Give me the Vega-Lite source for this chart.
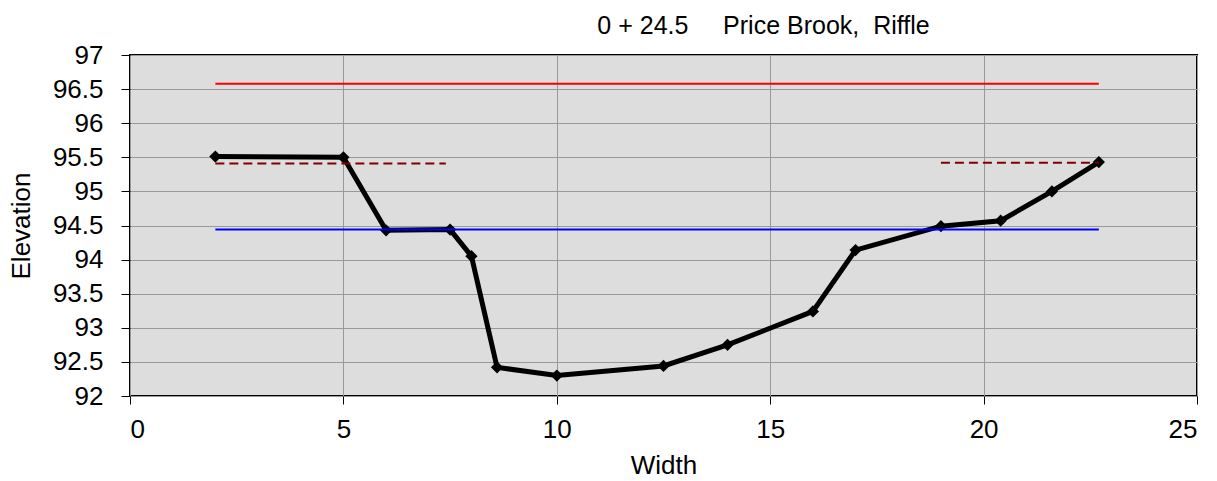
{
  "$schema": "https://vega.github.io/schema/vega-lite/v6.json",
  "autosize": "none",
  "width": 1067,
  "height": 341,
  "padding": {"left": 130, "top": 55, "right": 20, "bottom": 85},
  "background": "white",
  "title": {
    "text": "0 + 24.5\u00a0\u00a0\u00a0\u00a0\u00a0Price Brook,\u00a0\u00a0Riffle",
    "font": "Liberation Sans",
    "fontSize": 25,
    "fontWeight": "normal",
    "color": "#000000",
    "anchor": "middle",
    "dx": 100,
    "offset": 3
  },
  "config": {
    "view": {"fill": "#DDDDDD", "stroke": "#000000", "strokeWidth": 2},
    "font": "Liberation Sans",
    "axis": {
      "labelFont": "Liberation Sans",
      "titleFont": "Liberation Sans",
      "labelFontSize": 26,
      "titleFontSize": 26,
      "titleFontWeight": "normal",
      "labelColor": "#000000",
      "titleColor": "#000000",
      "gridColor": "#999999",
      "gridWidth": 1,
      "gridOpacity": 1,
      "tickColor": "#000000",
      "tickWidth": 1,
      "domain": false
    }
  },
  "datasets": {
    "profile": [
      {"width": 2, "elevation": 95.51},
      {"width": 5, "elevation": 95.5},
      {"width": 6, "elevation": 94.43},
      {"width": 7.5, "elevation": 94.44},
      {"width": 8, "elevation": 94.05},
      {"width": 8.6, "elevation": 92.42},
      {"width": 10, "elevation": 92.3},
      {"width": 12.5, "elevation": 92.44},
      {"width": 14, "elevation": 92.75},
      {"width": 16, "elevation": 93.24},
      {"width": 17, "elevation": 94.14},
      {"width": 19, "elevation": 94.49},
      {"width": 20.4, "elevation": 94.57},
      {"width": 21.6, "elevation": 95.0},
      {"width": 22.7, "elevation": 95.43}
    ],
    "levels": [
      {"series": "flood", "seg": "a", "width": 2, "elevation": 96.58},
      {"series": "flood", "seg": "a", "width": 22.7, "elevation": 96.58},
      {"series": "water", "seg": "b", "width": 2, "elevation": 94.44},
      {"series": "water", "seg": "b", "width": 22.7, "elevation": 94.44},
      {"series": "bankfull", "seg": "c", "width": 2, "elevation": 95.41},
      {"series": "bankfull", "seg": "c", "width": 7.4, "elevation": 95.41},
      {"series": "bankfull", "seg": "d", "width": 19, "elevation": 95.42},
      {"series": "bankfull", "seg": "d", "width": 22.7, "elevation": 95.42}
    ]
  },
  "encoding": {
    "x": {
      "field": "width",
      "type": "quantitative",
      "scale": {"domain": [0, 25], "nice": false, "zero": false},
      "axis": {
        "title": "Width",
        "values": [0, 5, 10, 15, 20, 25],
        "tickSize": 8,
        "labelPadding": 12,
        "titlePadding": 10,
        "grid": true
      }
    },
    "y": {
      "field": "elevation",
      "type": "quantitative",
      "scale": {"domain": [92, 97], "nice": false, "zero": false},
      "axis": {
        "title": "Elevation",
        "values": [92, 92.5, 93, 93.5, 94, 94.5, 95, 95.5, 96, 96.5, 97],
        "format": "~g",
        "tickSize": 9,
        "labelPadding": 18,
        "titlePadding": 18,
        "grid": true
      }
    }
  },
  "layer": [
    {
      "data": {"name": "profile"},
      "mark": {"type": "line", "color": "#000000", "strokeWidth": 5},
      "encoding": {}
    },
    {
      "data": {"name": "profile"},
      "mark": {"type": "point", "shape": "diamond", "filled": true, "color": "#000000", "size": 150, "opacity": 1},
      "encoding": {}
    },
    {
      "data": {"name": "levels"},
      "mark": {"type": "line", "strokeWidth": 2},
      "encoding": {
        "detail": {"field": "seg"},
        "color": {
          "field": "series",
          "type": "nominal",
          "scale": {"domain": ["flood", "water", "bankfull"], "range": ["#FF0000", "#0000FF", "#800000"]},
          "legend": null
        },
        "strokeDash": {
          "field": "series",
          "type": "nominal",
          "scale": {"domain": ["flood", "water", "bankfull"], "range": [[1, 0], [1, 0], [9, 5]]},
          "legend": null
        }
      }
    }
  ]
}
